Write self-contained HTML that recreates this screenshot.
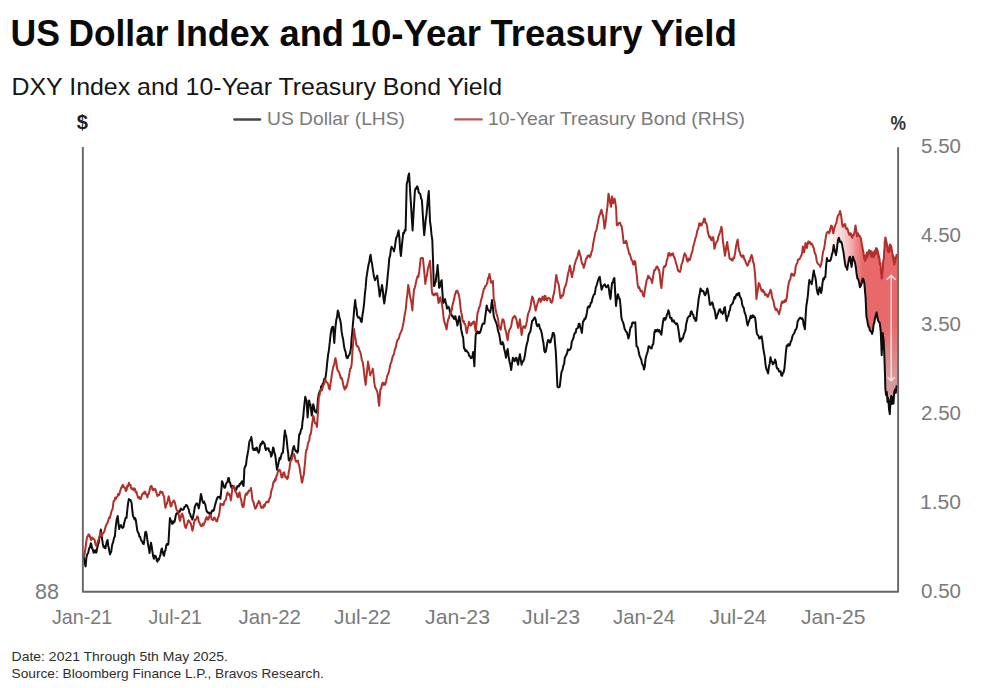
<!DOCTYPE html>
<html><head><meta charset="utf-8"><style>
html,body{margin:0;padding:0;background:#fff;}
body{width:1000px;height:688px;overflow:hidden;}
svg{display:block;font-family:"Liberation Sans", sans-serif;}
</style></head><body>
<svg width="1000" height="688" viewBox="0 0 1000 688">
<text x="11.50" y="95.40" font-size="23.6" fill="#151515" textLength="490.50" lengthAdjust="spacingAndGlyphs">DXY Index and 10-Year Treasury Bond Yield</text>
<text x="267.00" y="125.00" font-size="18.6" fill="#7a7a7a" textLength="138.00" lengthAdjust="spacingAndGlyphs">US Dollar (LHS)</text>
<text x="488.00" y="125.00" font-size="18.6" fill="#7a7a7a" textLength="257.00" lengthAdjust="spacingAndGlyphs">10-Year Treasury Bond (RHS)</text>
<text x="76.80" y="128.70" font-size="20.5" font-weight="700" fill="#1e1e1e" textLength="11.20" lengthAdjust="spacingAndGlyphs">$</text>
<text x="890.50" y="129.50" font-size="19.4" font-weight="700" fill="#333" textLength="15.50" lengthAdjust="spacingAndGlyphs">%</text>
<text x="35.00" y="598.70" font-size="21.2" fill="#7a7a7a" textLength="24.00" lengthAdjust="spacingAndGlyphs">88</text>
<text x="11.60" y="661.30" font-size="13.4" fill="#2e2e2e" textLength="216.40" lengthAdjust="spacingAndGlyphs">Date: 2021 Through 5th May 2025.</text>
<text x="11.60" y="678.20" font-size="13.4" fill="#2e2e2e" textLength="312.20" lengthAdjust="spacingAndGlyphs">Source: Bloomberg Finance L.P., Bravos Research.</text>
<text x="52.00" y="624.20" font-size="20.4" fill="#7a7a7a" textLength="60.25" lengthAdjust="spacingAndGlyphs">Jan-21</text>
<text x="148.50" y="624.20" font-size="20.4" fill="#7a7a7a" textLength="53.50" lengthAdjust="spacingAndGlyphs">Jul-21</text>
<text x="238.50" y="624.20" font-size="20.4" fill="#7a7a7a" textLength="62.50" lengthAdjust="spacingAndGlyphs">Jan-22</text>
<text x="334.00" y="624.20" font-size="20.4" fill="#7a7a7a" textLength="57.00" lengthAdjust="spacingAndGlyphs">Jul-22</text>
<text x="425.00" y="624.20" font-size="20.4" fill="#7a7a7a" textLength="65.00" lengthAdjust="spacingAndGlyphs">Jan-23</text>
<text x="522.00" y="624.20" font-size="20.4" fill="#7a7a7a" textLength="58.00" lengthAdjust="spacingAndGlyphs">Jul-23</text>
<text x="613.00" y="624.20" font-size="20.4" fill="#7a7a7a" textLength="62.00" lengthAdjust="spacingAndGlyphs">Jan-24</text>
<text x="709.50" y="624.20" font-size="20.4" fill="#7a7a7a" textLength="57.00" lengthAdjust="spacingAndGlyphs">Jul-24</text>
<text x="801.00" y="624.20" font-size="20.4" fill="#7a7a7a" textLength="64.50" lengthAdjust="spacingAndGlyphs">Jan-25</text>
<text x="921.00" y="152.80" font-size="20.5" fill="#7a7a7a" textLength="40.00" lengthAdjust="spacingAndGlyphs">5.50</text>
<text x="921.00" y="241.80" font-size="20.5" fill="#7a7a7a" textLength="40.00" lengthAdjust="spacingAndGlyphs">4.50</text>
<text x="921.00" y="330.80" font-size="20.5" fill="#7a7a7a" textLength="40.00" lengthAdjust="spacingAndGlyphs">3.50</text>
<text x="921.00" y="419.80" font-size="20.5" fill="#7a7a7a" textLength="40.00" lengthAdjust="spacingAndGlyphs">2.50</text>
<text x="920.00" y="508.80" font-size="20.5" fill="#7a7a7a" textLength="41.00" lengthAdjust="spacingAndGlyphs">1.50</text>
<text x="921.00" y="597.80" font-size="20.5" fill="#7a7a7a" textLength="40.00" lengthAdjust="spacingAndGlyphs">0.50</text>
<text x="10.50" y="46.30" font-size="36" font-weight="700" fill="#0a0a0a" textLength="49.50" lengthAdjust="spacingAndGlyphs">US</text>
<text x="68.50" y="46.30" font-size="36" font-weight="700" fill="#0a0a0a" textLength="100.00" lengthAdjust="spacingAndGlyphs">Dollar</text>
<text x="176.00" y="46.30" font-size="36" font-weight="700" fill="#0a0a0a" textLength="93.50" lengthAdjust="spacingAndGlyphs">Index</text>
<text x="279.50" y="46.30" font-size="36" font-weight="700" fill="#0a0a0a" textLength="64.50" lengthAdjust="spacingAndGlyphs">and</text>
<text x="350.50" y="46.30" font-size="36" font-weight="700" fill="#0a0a0a" textLength="130.50" lengthAdjust="spacingAndGlyphs">10-Year</text>
<text x="490.50" y="46.30" font-size="36" font-weight="700" fill="#0a0a0a" textLength="152.00" lengthAdjust="spacingAndGlyphs">Treasury</text>
<text x="650.50" y="46.30" font-size="36" font-weight="700" fill="#0a0a0a" textLength="86.50" lengthAdjust="spacingAndGlyphs">Yield</text>
<line x1="234.4" y1="119.5" x2="260.1" y2="119.5" stroke="#464646" stroke-width="2.4" stroke-linecap="round"/>
<line x1="455.3" y1="119.4" x2="481.6" y2="119.4" stroke="#b85a56" stroke-width="2.4" stroke-linecap="round"/>
<defs><linearGradient id="g" gradientUnits="userSpaceOnUse" x1="829" y1="0" x2="863" y2="0"><stop offset="0" stop-color="#e8696a" stop-opacity="0.04"/><stop offset="0.2" stop-color="#e8696a" stop-opacity="0.18"/><stop offset="0.41" stop-color="#e8696a" stop-opacity="0.28"/><stop offset="0.62" stop-color="#e8696a" stop-opacity="0.5"/><stop offset="0.82" stop-color="#e8696a" stop-opacity="0.8"/><stop offset="1" stop-color="#e8696a" stop-opacity="1"/></linearGradient><linearGradient id="gv" gradientUnits="userSpaceOnUse" x1="0" y1="325" x2="0" y2="375"><stop offset="0" stop-color="#c8c8c8" stop-opacity="0"/><stop offset="1" stop-color="#c8c8c8" stop-opacity="0.5"/></linearGradient></defs>
<path d="M829.0,233.3 L829.1,233.4 L830.5,227.6 L832.0,226.2 L833.4,233.4 L834.9,226.2 L836.3,223.3 L837.8,216.0 L840.0,210.9 L841.4,217.4 L842.2,224.7 L843.6,226.2 L845.1,224.0 L846.5,229.0 L848.0,230.5 L849.4,234.9 L850.9,233.4 L852.3,237.8 L853.8,234.9 L855.5,225.4 L857.0,236.3 L858.1,233.4 L860.0,236.3 L860.9,238.3 L862.7,248.8 L864.4,259.2 L866.2,255.7 L867.9,254.0 L869.7,252.3 L871.4,254.0 L873.1,255.7 L874.9,252.3 L876.6,250.5 L878.4,254.0 L880.1,262.7 L881.9,278.4 L883.6,259.2 L885.3,237.5 L887.1,247.0 L888.8,250.5 L890.6,245.3 L892.3,252.3 L894.1,262.7 L895.8,257.5 L897.0,254.0 L897.5,254.0 L897.5,388.0 L897.5,388.0 L896.5,386.2 L895.8,393.0 L895.0,389.6 L894.2,392.0 L893.5,397.0 L892.8,397.0 L892.0,397.0 L891.2,396.0 L890.5,397.0 L889.8,397.0 L889.0,397.0 L888.3,397.0 L887.5,397.0 L886.8,392.0 L886.0,395.0 L885.3,388.0 L885.0,375.0 L884.5,360.0 L883.7,341.0 L882.7,332.9 L881.7,355.2 L880.7,330.8 L879.7,322.7 L878.2,320.7 L876.6,312.5 L875.0,318.6 L873.6,324.7 L872.1,333.9 L870.5,330.8 L868.5,326.8 L866.4,316.6 L865.6,297.6 L864.4,283.6 L862.7,278.4 L860.9,285.4 L860.0,287.2 L858.9,281.4 L857.4,278.5 L856.0,268.3 L854.5,261.0 L853.0,256.7 L851.6,266.9 L850.1,256.7 L848.7,261.0 L847.2,269.8 L845.8,266.9 L844.3,258.1 L843.3,250.9 L841.9,243.6 L840.4,242.2 L839.0,237.8 L837.5,243.6 L836.0,255.2 L834.9,250.9 L833.7,245.0 L832.7,252.3 L831.2,258.1 L829.8,261.0 L829.0,261.0 Z" fill="url(#g)" stroke="none"/>
<path d="M829.0,233.3 L829.1,233.4 L830.5,227.6 L832.0,226.2 L833.4,233.4 L834.9,226.2 L836.3,223.3 L837.8,216.0 L840.0,210.9 L841.4,217.4 L842.2,224.7 L843.6,226.2 L845.1,224.0 L846.5,229.0 L848.0,230.5 L849.4,234.9 L850.9,233.4 L852.3,237.8 L853.8,234.9 L855.5,225.4 L857.0,236.3 L858.1,233.4 L860.0,236.3 L860.9,238.3 L862.7,248.8 L864.4,259.2 L866.2,255.7 L867.9,254.0 L869.7,252.3 L871.4,254.0 L873.1,255.7 L874.9,252.3 L876.6,250.5 L878.4,254.0 L880.1,262.7 L881.9,278.4 L883.6,259.2 L885.3,237.5 L887.1,247.0 L888.8,250.5 L890.6,245.3 L892.3,252.3 L894.1,262.7 L895.8,257.5 L897.0,254.0 L897.5,254.0 L897.5,388.0 L897.5,388.0 L896.5,386.2 L895.8,393.0 L895.0,389.6 L894.2,392.0 L893.5,397.0 L892.8,397.0 L892.0,397.0 L891.2,396.0 L890.5,397.0 L889.8,397.0 L889.0,397.0 L888.3,397.0 L887.5,397.0 L886.8,392.0 L886.0,395.0 L885.3,388.0 L885.0,375.0 L884.5,360.0 L883.7,341.0 L882.7,332.9 L881.7,355.2 L880.7,330.8 L879.7,322.7 L878.2,320.7 L876.6,312.5 L875.0,318.6 L873.6,324.7 L872.1,333.9 L870.5,330.8 L868.5,326.8 L866.4,316.6 L865.6,297.6 L864.4,283.6 L862.7,278.4 L860.9,285.4 L860.0,287.2 L858.9,281.4 L857.4,278.5 L856.0,268.3 L854.5,261.0 L853.0,256.7 L851.6,266.9 L850.1,256.7 L848.7,261.0 L847.2,269.8 L845.8,266.9 L844.3,258.1 L843.3,250.9 L841.9,243.6 L840.4,242.2 L839.0,237.8 L837.5,243.6 L836.0,255.2 L834.9,250.9 L833.7,245.0 L832.7,252.3 L831.2,258.1 L829.8,261.0 L829.0,261.0 Z" fill="url(#gv)" stroke="none"/>
<path d="M82.8,555.2 L83.4,555.8 L84.0,558.4 L84.8,563.5 L85.6,566.4 L86.4,557.6 L87.0,555.2 L87.6,553.6 L88.2,553.0 L88.8,549.6 L89.4,547.8 L90.0,547.2 L90.8,543.2 L91.4,544.7 L92.0,548.0 L92.8,549.5 L93.6,552.8 L94.2,552.1 L94.8,550.4 L95.4,550.2 L96.0,552.8 L96.6,551.7 L97.2,548.0 L98.0,544.8 L98.8,542.4 L99.4,538.1 L100.0,536.0 L100.8,529.6 L101.4,534.3 L102.0,538.4 L102.8,543.7 L103.6,547.2 L104.2,546.2 L104.8,548.0 L105.4,548.3 L106.0,545.6 L106.8,541.5 L107.6,540.0 L108.2,545.5 L108.8,548.0 L109.4,551.6 L110.0,554.4 L110.6,552.6 L111.2,552.0 L111.8,547.1 L112.4,544.0 L113.0,542.7 L113.6,540.0 L114.2,537.6 L114.8,536.8 L115.6,528.0 L116.6,520.0 L117.7,516.0 L118.5,523.6 L119.2,529.0 L120.1,525.5 L121.0,525.0 L121.8,527.2 L122.7,527.9 L123.5,527.0 L124.2,523.0 L125.0,520.0 L125.8,517.4 L126.5,518.0 L127.5,508.0 L128.2,502.5 L128.9,499.0 L129.7,500.1 L130.5,500.0 L131.6,503.0 L132.3,510.5 L133.0,516.0 L133.8,517.4 L134.5,519.5 L135.0,518.0 L135.8,519.9 L136.5,525.0 L137.2,530.1 L138.0,532.5 L138.7,533.3 L139.3,536.5 L140.0,536.5 L140.8,539.1 L141.5,541.0 L142.2,541.6 L143.0,543.7 L143.7,544.0 L144.4,539.8 L145.2,532.5 L145.9,531.7 L146.6,534.0 L147.3,539.4 L148.0,544.0 L148.8,548.2 L149.5,553.0 L150.2,548.7 L151.0,542.7 L151.7,546.5 L152.4,551.4 L153.2,556.5 L153.9,558.7 L154.6,555.7 L155.3,555.8 L156.0,556.9 L156.8,560.6 L157.5,561.6 L158.2,559.0 L159.0,559.6 L159.7,557.0 L160.4,555.1 L161.2,550.1 L161.9,548.5 L162.6,551.6 L163.3,554.3 L164.0,555.8 L164.7,552.1 L165.5,550.1 L166.2,545.6 L166.9,544.0 L167.7,544.9 L168.4,544.0 L169.2,530.1 L169.9,518.0 L170.6,520.7 L171.3,520.6 L172.0,523.8 L172.7,523.7 L173.5,521.2 L174.2,522.3 L174.9,520.3 L175.7,515.8 L176.4,513.6 L177.1,513.8 L177.9,511.5 L178.6,512.0 L179.3,512.1 L180.1,510.9 L180.8,508.6 L181.5,509.2 L182.2,509.8 L183.0,509.8 L183.7,509.2 L184.4,506.9 L185.2,506.8 L185.9,505.0 L186.6,505.2 L187.3,506.0 L188.0,507.8 L188.7,509.3 L189.5,513.1 L190.2,514.0 L190.9,516.8 L191.7,517.3 L192.4,519.6 L193.2,515.9 L194.0,512.5 L194.8,506.8 L195.6,505.1 L196.4,503.5 L197.2,503.6 L198.0,505.3 L198.8,508.4 L199.5,504.3 L200.2,499.5 L200.9,494.0 L201.5,495.8 L202.2,500.2 L202.8,502.0 L203.4,503.0 L204.1,501.5 L204.7,503.6 L205.3,504.4 L206.0,508.4 L206.8,511.5 L207.6,512.2 L208.4,513.2 L209.2,512.6 L210.0,514.8 L210.8,514.2 L211.6,511.6 L212.4,510.3 L213.2,510.9 L214.0,510.0 L214.8,506.1 L215.6,503.2 L216.4,500.4 L217.2,498.1 L218.0,496.8 L218.8,497.2 L219.6,496.9 L220.4,498.8 L221.2,491.3 L222.0,481.2 L222.8,482.9 L223.6,486.0 L224.4,487.8 L225.2,487.6 L226.0,483.7 L226.8,482.8 L227.5,481.9 L228.2,478.2 L228.9,478.0 L229.5,482.0 L230.2,482.8 L230.8,486.0 L231.6,487.9 L232.4,485.7 L233.2,487.6 L234.0,486.8 L234.8,488.4 L235.6,489.2 L236.4,489.6 L237.2,486.4 L238.0,486.0 L238.8,486.5 L239.6,484.0 L240.4,484.4 L241.2,482.5 L242.0,481.2 L242.8,484.1 L243.6,486.0 L244.4,468.4 L245.2,466.4 L246.0,465.2 L246.8,458.2 L247.6,454.0 L248.4,449.4 L249.2,442.8 L249.9,440.2 L250.6,440.1 L251.3,437.0 L252.1,442.1 L252.8,448.8 L253.5,449.9 L254.1,448.6 L254.8,450.0 L255.5,450.0 L256.1,447.8 L256.8,447.5 L257.4,450.3 L258.1,451.8 L258.7,452.7 L259.4,450.5 L260.0,446.0 L260.7,443.9 L261.3,444.7 L262.0,442.2 L262.7,441.2 L263.3,443.3 L264.0,442.9 L264.7,444.1 L265.3,448.5 L266.0,450.0 L266.6,448.2 L267.3,448.4 L267.9,448.8 L268.5,448.3 L269.2,451.4 L269.8,451.4 L270.5,452.6 L271.1,456.6 L271.8,455.0 L272.4,451.7 L273.1,447.5 L273.7,448.6 L274.4,452.9 L275.0,454.0 L275.7,458.7 L276.3,464.1 L277.0,469.7 L277.7,467.1 L278.3,464.1 L279.0,460.5 L279.7,457.8 L280.3,459.3 L281.0,456.6 L281.6,453.9 L282.3,452.9 L282.9,452.7 L283.6,445.0 L284.2,436.9 L284.9,430.5 L285.5,434.4 L286.2,436.0 L286.8,441.0 L287.5,448.2 L288.1,452.6 L288.8,460.5 L289.5,460.6 L290.1,458.5 L290.8,459.2 L291.4,455.3 L292.1,453.9 L292.7,450.0 L293.4,447.2 L294.0,446.0 L294.7,448.8 L295.3,450.4 L296.0,451.4 L296.7,450.9 L297.3,452.7 L298.0,451.4 L298.6,441.9 L299.2,434.4 L299.9,434.1 L300.5,432.1 L301.2,428.9 L301.9,428.8 L302.5,421.6 L303.2,417.5 L303.8,410.0 L304.6,402.7 L305.3,396.7 L306.0,399.7 L306.6,400.5 L307.6,417.5 L308.4,408.4 L309.1,400.5 L309.8,403.9 L310.4,404.3 L311.0,408.7 L311.7,415.6 L312.4,411.4 L313.2,404.3 L313.8,406.2 L314.5,409.6 L315.1,411.8 L315.7,411.0 L316.4,412.6 L317.0,411.8 L318.0,398.6 L318.9,393.5 L319.8,391.0 L320.5,390.7 L321.2,386.2 L322.0,386.8 L322.7,383.5 L323.4,383.1 L324.1,379.4 L324.8,378.4 L325.5,377.8 L326.4,371.2 L327.3,361.6 L328.1,354.8 L328.9,350.4 L329.7,343.0 L330.6,334.5 L331.5,329.0 L332.3,327.2 L333.1,326.7 L333.7,335.5 L334.3,343.0 L334.9,333.6 L335.5,326.7 L336.3,319.8 L337.0,317.3 L337.8,310.5 L338.6,312.7 L339.3,317.1 L340.1,319.8 L340.9,323.8 L341.6,331.4 L342.4,336.0 L343.2,339.5 L344.0,346.1 L344.8,350.0 L345.6,351.8 L346.3,356.5 L347.1,358.1 L347.9,357.8 L348.6,355.4 L349.4,354.7 L350.2,352.4 L351.0,347.7 L351.6,338.5 L352.3,331.7 L352.9,324.4 L353.7,315.5 L354.4,306.8 L355.2,300.0 L355.8,306.2 L356.5,308.7 L357.1,315.1 L357.9,317.1 L358.6,317.8 L359.4,317.4 L360.2,318.5 L360.9,321.3 L361.7,322.1 L362.5,314.7 L363.3,310.2 L364.1,303.5 L364.9,293.8 L365.6,287.9 L366.4,277.9 L367.2,272.8 L367.9,268.1 L368.7,264.0 L369.3,262.1 L370.0,256.8 L370.6,254.7 L371.3,260.2 L372.0,263.4 L372.7,268.6 L373.5,273.7 L374.2,277.3 L375.0,280.2 L375.8,277.9 L376.5,277.9 L377.3,275.6 L378.1,282.9 L378.9,288.9 L379.7,296.5 L380.5,291.9 L381.2,289.6 L382.0,284.9 L382.8,289.8 L383.5,298.7 L384.3,303.5 L385.0,297.9 L385.6,294.0 L386.3,289.8 L387.0,283.6 L387.8,274.7 L388.5,268.1 L389.3,258.4 L390.1,255.8 L390.8,250.1 L391.6,246.7 L392.4,248.8 L393.2,248.8 L394.0,251.4 L394.8,247.4 L395.5,242.4 L396.3,237.4 L397.1,236.6 L397.8,233.6 L398.6,230.5 L399.4,237.9 L400.1,249.1 L400.9,256.0 L401.7,247.6 L402.5,239.6 L403.3,232.8 L404.1,233.3 L404.8,230.0 L405.6,230.5 L406.7,184.0 L407.5,181.4 L408.3,176.1 L409.1,173.5 L409.9,187.8 L410.7,200.2 L411.3,209.3 L412.0,221.3 L412.6,230.5 L413.4,215.8 L414.1,203.7 L414.9,191.0 L415.7,188.3 L416.4,188.6 L417.2,186.3 L418.0,188.2 L418.7,192.5 L419.5,193.3 L420.3,194.2 L421.1,198.4 L421.9,200.2 L422.7,212.9 L423.4,224.7 L424.2,235.1 L425.0,227.4 L425.7,219.7 L426.5,214.2 L427.3,205.6 L428.0,197.8 L428.8,191.0 L429.4,206.5 L430.0,221.2 L430.8,226.9 L431.5,234.7 L432.3,240.0 L433.1,262.0 L433.8,286.0 L434.4,285.8 L435.1,282.4 L435.7,282.0 L436.3,275.5 L437.0,272.1 L437.6,265.0 L438.4,275.6 L439.1,287.8 L439.8,286.9 L440.4,284.0 L441.0,281.5 L441.7,280.2 L442.4,292.2 L443.2,303.0 L443.8,302.2 L444.5,299.8 L445.1,299.1 L445.7,302.8 L446.4,304.9 L447.0,308.6 L447.8,308.1 L448.5,306.7 L449.3,308.3 L450.0,312.1 L450.8,314.3 L451.5,314.4 L452.2,316.5 L452.9,316.3 L453.6,318.0 L454.2,319.0 L454.9,316.4 L455.5,316.2 L456.1,319.8 L456.8,321.7 L457.4,325.6 L458.0,322.8 L458.7,318.7 L459.3,316.2 L459.9,319.7 L460.6,324.3 L461.2,329.4 L461.8,332.6 L462.5,335.6 L463.1,337.0 L464.0,348.3 L464.6,348.5 L465.3,351.1 L465.9,350.2 L466.5,350.5 L467.2,351.9 L467.8,352.1 L468.4,353.0 L469.1,355.8 L469.7,355.9 L470.3,357.1 L471.0,358.1 L471.6,357.8 L472.4,356.4 L473.1,352.1 L473.8,359.5 L474.4,366.3 L475.0,349.6 L475.7,335.0 L476.5,332.7 L477.3,331.3 L478.0,333.3 L478.8,331.8 L479.5,333.2 L480.3,331.9 L481.2,328.7 L482.0,325.6 L482.8,323.7 L483.6,323.3 L484.4,323.7 L485.2,316.8 L485.9,312.1 L486.7,305.4 L487.6,308.9 L488.5,310.6 L489.4,311.0 L490.2,312.4 L491.1,307.3 L492.0,300.1 L492.9,307.1 L493.7,315.8 L494.6,318.9 L495.5,321.0 L496.4,323.3 L497.2,326.3 L498.1,331.1 L499.0,333.3 L499.9,338.1 L500.7,343.8 L501.6,344.3 L502.5,342.0 L503.4,344.1 L504.2,349.0 L505.1,352.5 L506.0,357.7 L506.9,352.1 L507.7,349.0 L508.5,355.9 L509.4,361.2 L510.3,364.8 L511.2,370.0 L512.0,363.4 L512.9,357.7 L513.8,359.9 L514.7,361.2 L515.5,358.3 L516.4,357.7 L517.3,361.6 L518.2,364.7 L519.0,358.3 L519.9,354.2 L520.8,359.8 L521.6,364.7 L522.5,361.4 L523.4,361.2 L524.2,358.7 L525.1,354.2 L526.0,347.7 L526.9,343.8 L527.8,340.7 L528.6,335.0 L529.5,332.8 L530.4,331.6 L531.2,326.7 L532.1,321.0 L533.0,320.2 L533.9,318.5 L534.8,317.3 L535.6,319.3 L536.5,324.3 L537.4,326.3 L538.2,324.5 L539.1,324.6 L540.0,328.6 L540.8,329.8 L541.7,333.0 L542.6,338.5 L543.5,343.2 L544.3,350.8 L545.0,352.3 L545.8,351.6 L546.6,347.3 L547.3,342.8 L548.1,340.0 L548.9,340.2 L549.7,342.4 L550.5,342.3 L551.3,338.8 L552.0,337.0 L552.8,333.0 L553.6,333.1 L554.4,335.3 L555.1,344.3 L555.8,351.6 L556.6,368.0 L557.4,386.5 L558.2,387.3 L559.0,387.2 L559.8,386.5 L560.6,379.1 L561.4,372.6 L562.0,370.8 L562.7,369.2 L563.3,365.6 L564.1,364.1 L564.8,357.9 L565.6,356.3 L566.4,354.8 L567.1,353.1 L567.9,349.3 L568.7,350.2 L569.4,350.1 L570.2,349.3 L571.0,347.7 L571.8,341.6 L572.6,340.0 L573.4,338.1 L574.1,334.7 L574.9,333.0 L575.7,332.6 L576.4,328.7 L577.2,328.4 L578.0,327.7 L578.7,324.0 L579.5,323.7 L580.3,327.5 L581.1,329.2 L581.9,333.0 L583.0,321.4 L583.8,321.0 L584.5,318.5 L585.3,319.0 L586.1,316.7 L586.9,312.7 L587.7,307.4 L588.5,306.4 L589.2,307.4 L590.0,306.0 L590.8,302.7 L591.5,302.7 L592.3,299.0 L593.1,296.5 L593.9,294.5 L594.7,294.3 L595.8,287.3 L596.6,285.6 L597.3,282.9 L598.1,280.3 L599.0,277.6 L599.8,276.9 L600.7,283.8 L601.6,289.7 L602.4,287.6 L603.2,285.7 L604.0,285.0 L604.8,284.4 L605.5,286.2 L606.3,287.3 L607.2,286.5 L608.1,285.0 L608.9,288.9 L609.7,295.3 L610.5,299.0 L611.3,290.1 L612.1,282.7 L612.9,282.5 L613.6,278.9 L614.4,278.0 L615.2,292.9 L616.0,306.0 L616.6,300.9 L617.3,296.8 L617.9,294.3 L618.5,296.3 L619.2,298.8 L619.8,299.0 L620.6,306.9 L621.4,317.6 L622.2,320.6 L622.9,321.9 L623.7,324.5 L624.5,328.3 L625.2,330.1 L626.0,331.5 L626.8,332.3 L627.6,335.1 L628.4,338.5 L629.2,335.6 L629.9,330.2 L630.7,326.9 L631.5,326.9 L632.2,322.9 L633.0,322.2 L633.8,323.1 L634.5,323.1 L635.3,322.2 L635.9,334.8 L636.5,346.3 L637.3,346.5 L638.1,348.6 L638.9,353.1 L639.7,356.3 L640.5,357.9 L641.3,359.9 L642.0,363.6 L642.8,364.9 L643.4,366.5 L644.0,369.5 L644.8,366.4 L645.5,359.1 L646.3,355.6 L647.1,353.5 L647.8,350.9 L648.6,346.3 L649.4,346.5 L650.1,347.3 L650.9,348.6 L651.7,348.4 L652.5,344.9 L653.3,344.0 L654.4,332.3 L655.2,330.0 L655.9,331.6 L656.7,330.0 L657.5,329.5 L658.3,331.6 L659.1,330.0 L659.9,331.0 L660.6,333.5 L661.4,334.7 L662.2,328.0 L662.9,322.7 L663.7,318.4 L664.5,318.1 L665.2,319.9 L666.0,318.4 L666.8,315.0 L667.6,313.6 L668.4,310.2 L669.2,312.6 L669.9,317.2 L670.7,318.4 L671.5,317.7 L672.2,321.5 L673.0,320.7 L673.8,320.3 L674.5,322.6 L675.3,323.0 L676.1,324.3 L676.9,323.2 L677.7,325.3 L678.5,330.4 L679.2,335.2 L680.0,341.6 L680.8,341.3 L681.5,338.5 L682.3,339.3 L683.1,337.4 L683.9,334.2 L684.7,332.3 L685.5,329.9 L686.2,324.0 L687.0,320.7 L687.8,317.5 L688.5,316.9 L689.3,316.0 L690.1,316.0 L690.8,311.7 L691.6,311.4 L692.4,314.1 L693.2,314.8 L694.0,318.4 L694.8,318.1 L695.5,320.9 L696.3,320.7 L697.1,312.0 L698.0,304.8 L698.8,297.7 L699.6,294.6 L700.5,288.4 L701.3,289.7 L702.0,291.3 L702.8,290.7 L703.6,291.6 L704.3,294.1 L705.1,295.3 L705.9,293.8 L706.6,291.1 L707.4,288.4 L708.2,292.4 L709.0,297.7 L709.8,304.7 L710.6,304.9 L711.3,303.5 L712.1,302.3 L712.9,303.8 L713.6,308.0 L714.4,309.3 L715.2,313.0 L716.0,318.6 L716.6,317.8 L717.3,314.5 L717.9,314.0 L718.7,310.9 L719.4,309.5 L720.2,309.3 L721.0,312.4 L721.8,312.0 L722.6,314.0 L723.4,312.9 L724.1,308.2 L724.9,307.0 L725.8,315.5 L726.7,320.9 L727.5,316.9 L728.3,316.1 L729.1,311.6 L729.9,310.3 L730.6,305.9 L731.4,304.7 L732.2,304.0 L732.9,302.9 L733.7,300.0 L734.5,297.0 L735.2,298.4 L736.0,295.3 L736.8,294.0 L737.6,295.2 L738.4,293.0 L739.2,293.1 L739.9,296.9 L740.7,297.7 L741.5,299.8 L742.2,304.7 L743.0,307.0 L743.8,307.9 L744.5,312.2 L745.3,314.0 L746.1,317.1 L746.9,322.2 L747.7,325.6 L748.5,322.3 L749.2,320.9 L750.0,318.0 L750.7,315.8 L751.4,317.9 L752.1,317.4 L752.8,315.3 L753.6,317.0 L754.3,316.4 L755.1,317.7 L755.7,322.3 L756.4,330.0 L757.0,334.0 L757.8,335.0 L758.5,336.0 L759.3,338.6 L760.1,338.2 L760.8,336.8 L761.6,336.3 L762.4,341.2 L763.2,348.0 L764.0,352.6 L764.8,357.1 L765.5,364.6 L766.3,368.8 L767.2,370.7 L768.1,373.5 L768.9,366.9 L769.7,363.5 L770.5,357.2 L771.3,361.1 L772.0,361.6 L772.8,364.2 L773.6,363.5 L774.3,362.4 L775.1,359.5 L775.9,361.8 L776.6,367.1 L777.4,368.8 L778.2,368.8 L779.0,371.5 L779.8,371.2 L780.6,371.2 L781.3,375.3 L782.1,375.8 L782.9,372.9 L783.6,372.5 L784.4,368.8 L785.2,360.4 L785.9,352.2 L786.7,345.6 L787.5,346.2 L788.3,344.1 L789.1,345.6 L789.9,345.0 L790.6,341.7 L791.4,340.9 L792.2,337.1 L792.9,335.0 L793.7,334.0 L794.5,332.8 L795.2,330.2 L796.0,329.3 L796.8,327.6 L797.6,321.7 L798.4,320.0 L799.2,318.8 L799.9,317.7 L800.7,317.7 L801.5,319.0 L802.2,318.3 L803.0,320.0 L803.6,324.5 L804.3,326.6 L804.9,329.3 L805.6,316.8 L806.3,306.0 L807.3,300.0 L808.0,294.0 L808.7,285.5 L809.4,280.0 L810.1,281.9 L810.9,282.0 L811.6,284.3 L812.3,280.3 L813.1,274.5 L813.8,270.5 L814.5,274.8 L815.3,277.0 L816.0,281.6 L816.7,288.7 L817.5,292.6 L818.2,294.5 L818.9,289.7 L819.6,287.2 L820.4,290.5 L821.1,293.0 L821.8,289.6 L822.6,282.3 L823.3,278.5 L824.0,279.5 L824.7,276.9 L825.4,277.0 L826.1,266.0 L826.9,258.1 L827.6,261.1 L828.3,261.0 L829.0,260.5 L829.8,261.0 L830.5,260.3 L831.2,258.1 L832.0,254.1 L832.7,252.3 L833.7,245.0 L834.3,248.9 L834.9,250.9 L836.0,255.2 L836.8,250.3 L837.5,243.6 L838.2,239.3 L839.0,237.8 L839.7,240.9 L840.4,242.2 L841.1,241.5 L841.9,243.6 L842.6,247.7 L843.3,250.9 L844.3,258.1 L845.0,263.5 L845.8,266.9 L846.5,266.9 L847.2,269.8 L848.0,264.4 L848.7,261.0 L849.4,257.5 L850.1,256.7 L850.9,262.5 L851.6,266.9 L852.3,260.6 L853.0,256.7 L853.8,259.6 L854.5,261.0 L855.2,263.6 L856.0,268.3 L856.7,274.6 L857.4,278.5 L858.1,279.1 L858.9,281.4 L860.0,287.2 L860.9,285.4 L861.8,282.9 L862.7,278.4 L863.5,279.8 L864.4,283.6 L865.0,291.4 L865.6,297.6 L866.4,316.6 L867.1,319.2 L867.8,323.8 L868.5,326.8 L869.2,327.2 L869.8,330.4 L870.5,330.8 L871.3,331.9 L872.1,333.9 L872.9,330.8 L873.6,324.7 L874.3,322.6 L875.0,318.6 L875.8,315.2 L876.6,312.5 L877.4,317.3 L878.2,320.7 L879.0,322.2 L879.7,322.7 L880.7,330.8 L881.7,355.2 L882.7,332.9 L883.7,341.0 L884.5,360.0 L885.0,375.0 L885.3,388.0 L886.0,395.0 L886.8,392.0 L887.5,402.0 L888.3,398.0 L889.0,409.0 L889.8,414.0 L890.5,401.0 L891.2,396.0 L892.0,404.0 L892.8,397.0 L893.5,403.6 L894.2,392.0 L895.0,389.6 L895.8,393.0 L896.5,386.2 L897.5,388.0" fill="none" stroke="#0d0d0d" stroke-width="2.0" stroke-linejoin="round"/>
<path d="M82.6,554.4 L83.5,554.3 L84.4,555.2 L85.2,550.0 L86.0,544.0 L86.6,539.6 L87.2,536.8 L87.8,536.6 L88.4,534.4 L89.2,534.7 L90.0,536.8 L90.6,538.8 L91.2,540.0 L91.8,537.4 L92.4,537.6 L93.2,539.0 L94.0,539.2 L94.6,539.7 L95.2,543.2 L95.8,545.2 L96.4,545.6 L97.2,543.6 L98.0,540.8 L98.8,539.1 L99.6,536.0 L100.2,533.9 L100.8,532.8 L101.4,535.8 L102.0,536.0 L102.8,533.3 L103.6,532.8 L104.4,531.2 L105.2,528.0 L106.0,525.6 L106.8,524.0 L107.6,522.6 L108.4,520.0 L109.1,517.6 L109.8,518.0 L110.5,515.4 L111.2,512.6 L111.9,510.1 L112.6,509.2 L113.6,501.0 L114.4,501.0 L115.2,497.6 L115.9,498.7 L116.7,497.0 L117.5,496.5 L118.2,493.7 L119.0,494.9 L119.7,493.0 L120.5,489.8 L121.2,487.9 L122.0,486.1 L122.8,484.8 L123.5,487.4 L124.3,487.0 L125.0,487.9 L125.8,491.0 L126.6,490.1 L127.3,485.7 L128.1,486.4 L128.9,482.8 L129.7,485.0 L130.4,484.7 L131.2,488.3 L131.9,488.9 L132.7,488.5 L133.4,490.2 L134.2,488.4 L135.0,489.0 L135.7,492.3 L136.5,491.9 L137.2,494.7 L137.9,497.2 L138.6,498.3 L139.3,497.1 L140.0,499.0 L140.8,499.0 L141.5,496.6 L142.2,494.1 L143.0,493.3 L143.7,493.7 L144.5,491.7 L145.2,491.8 L145.9,494.6 L146.7,494.6 L147.4,497.6 L148.1,494.1 L148.8,494.1 L149.6,490.3 L150.3,487.0 L151.0,486.0 L151.7,486.1 L152.5,489.7 L153.2,490.3 L153.9,488.7 L154.6,489.8 L155.3,489.0 L156.0,490.9 L156.8,494.2 L157.5,496.2 L158.2,494.7 L159.0,495.0 L159.7,493.3 L160.4,491.4 L161.2,492.8 L161.9,491.8 L162.6,492.5 L163.3,495.2 L164.0,496.2 L164.8,503.6 L165.5,507.8 L166.2,504.7 L167.0,503.4 L167.8,500.2 L168.7,496.2 L169.3,498.9 L170.0,502.4 L170.6,506.3 L171.3,506.4 L172.1,502.9 L172.8,502.3 L173.5,500.5 L174.2,500.9 L175.0,503.2 L175.7,506.3 L176.4,509.3 L177.2,510.7 L177.9,510.8 L178.6,513.6 L179.3,518.6 L180.0,520.9 L180.7,517.9 L181.5,514.5 L182.2,513.6 L182.9,515.7 L183.7,519.1 L184.4,523.8 L185.2,526.9 L185.9,528.0 L186.6,525.3 L187.3,523.9 L188.0,520.9 L188.7,520.3 L189.5,521.3 L190.2,522.8 L190.9,523.9 L191.7,527.4 L192.4,530.8 L193.2,527.7 L194.0,522.8 L194.8,519.6 L195.6,520.0 L196.4,518.4 L197.2,516.4 L198.0,517.2 L198.8,521.8 L199.6,522.8 L200.4,525.2 L201.2,525.9 L202.0,526.0 L202.8,523.6 L203.6,525.2 L204.4,522.8 L205.2,521.2 L206.0,518.0 L206.8,517.0 L207.6,519.6 L208.4,519.6 L209.2,516.7 L210.0,514.8 L210.8,515.1 L211.6,519.4 L212.4,519.6 L213.2,520.2 L214.0,517.5 L214.8,518.0 L215.6,519.4 L216.4,521.3 L217.2,521.2 L218.0,517.3 L218.8,516.4 L219.6,511.4 L220.4,503.6 L221.2,504.7 L222.0,504.0 L222.8,505.2 L223.6,504.7 L224.4,501.2 L225.2,500.4 L226.0,499.2 L226.8,494.2 L227.6,492.4 L228.4,494.7 L229.2,494.0 L230.0,495.7 L230.8,500.4 L231.6,495.0 L232.4,487.6 L233.2,486.5 L234.0,486.0 L234.8,489.7 L235.6,492.4 L236.4,492.7 L237.2,496.5 L238.0,497.2 L238.8,493.8 L239.6,492.4 L240.4,497.6 L241.2,499.6 L242.0,505.2 L242.8,507.0 L243.6,506.8 L244.4,500.5 L245.2,495.6 L246.0,493.6 L246.8,494.8 L247.6,492.4 L248.2,492.7 L248.9,490.4 L249.5,490.8 L250.2,490.6 L250.9,488.0 L251.5,491.3 L252.2,498.2 L252.8,501.0 L253.5,501.8 L254.1,504.8 L254.8,507.6 L255.5,508.7 L256.1,507.2 L256.8,506.3 L257.4,503.7 L258.1,503.4 L258.7,501.0 L259.4,501.6 L260.0,503.1 L260.7,506.3 L261.6,508.0 L262.4,506.7 L263.3,507.6 L264.0,504.7 L264.6,506.5 L265.3,503.7 L266.2,502.3 L267.0,501.5 L267.9,502.4 L268.5,501.9 L269.2,499.0 L269.8,498.4 L270.5,496.1 L271.1,492.0 L271.8,489.3 L272.5,487.5 L273.1,483.3 L273.8,481.4 L274.4,481.9 L275.1,479.0 L275.7,480.1 L276.4,475.9 L277.0,475.5 L277.7,472.3 L278.3,470.1 L279.0,471.0 L279.6,469.7 L280.3,470.8 L280.9,474.3 L281.6,477.5 L282.5,477.3 L283.3,472.8 L284.2,472.3 L284.9,475.3 L285.5,477.5 L286.4,476.6 L287.2,479.0 L288.1,477.5 L288.8,471.4 L289.4,469.3 L290.1,463.1 L290.8,459.9 L291.4,460.4 L292.1,457.9 L292.7,455.1 L293.4,455.8 L294.0,454.0 L294.7,456.0 L295.3,459.7 L296.0,461.8 L296.7,460.8 L297.3,461.6 L298.0,460.5 L298.6,464.2 L299.3,466.1 L299.9,469.7 L300.6,474.4 L301.2,478.0 L301.9,482.7 L302.5,481.1 L303.2,476.6 L303.8,474.9 L304.5,467.5 L305.2,461.0 L305.7,453.4 L306.4,449.7 L307.1,449.1 L307.8,443.9 L308.5,442.0 L309.2,440.8 L309.9,435.0 L310.6,434.7 L311.3,430.7 L311.9,424.9 L312.6,421.1 L313.2,415.6 L313.8,416.9 L314.5,421.2 L315.1,423.2 L315.7,423.1 L316.4,424.6 L317.0,427.0 L317.6,417.5 L318.3,405.9 L318.9,396.7 L319.5,395.7 L320.2,391.3 L320.8,391.0 L321.4,388.8 L322.1,390.1 L322.7,387.3 L323.4,384.6 L324.1,384.3 L324.8,380.6 L325.5,379.7 L326.4,382.1 L327.3,382.6 L328.1,384.3 L328.9,388.0 L329.7,389.5 L330.5,383.8 L331.2,379.3 L332.0,373.3 L332.7,369.3 L333.4,366.1 L334.1,365.6 L334.8,360.4 L335.5,358.1 L336.3,361.9 L337.0,367.8 L337.8,370.9 L338.6,371.1 L339.3,372.9 L340.1,375.6 L340.9,378.5 L341.6,377.7 L342.4,380.2 L343.2,384.7 L344.0,387.8 L344.8,389.5 L345.6,386.5 L346.3,387.6 L347.1,384.9 L347.9,380.7 L348.6,377.9 L349.4,373.3 L350.2,368.8 L350.9,368.2 L351.7,364.0 L352.5,351.2 L353.3,341.0 L354.1,329.1 L354.9,335.8 L355.6,338.9 L356.4,345.3 L357.2,346.5 L357.9,346.3 L358.7,347.7 L359.5,350.7 L360.2,351.8 L361.0,354.7 L361.8,360.1 L362.6,361.6 L363.4,366.3 L364.2,373.7 L364.9,379.8 L365.7,384.9 L366.5,376.7 L367.2,370.0 L368.0,361.6 L368.8,365.6 L369.5,371.2 L370.3,375.6 L371.1,372.6 L371.9,372.1 L372.7,368.6 L373.5,374.1 L374.2,381.9 L375.0,387.2 L375.8,388.3 L376.5,389.8 L377.3,391.9 L377.9,395.0 L378.6,402.1 L379.2,405.8 L380.3,389.5 L381.1,388.8 L381.9,384.3 L382.7,382.6 L383.5,384.9 L384.2,383.1 L385.0,384.9 L385.8,382.8 L386.5,379.2 L387.3,375.6 L388.1,374.2 L388.8,372.1 L389.6,368.6 L390.4,364.0 L391.2,362.7 L392.0,359.3 L392.8,356.0 L393.5,355.3 L394.3,352.3 L395.1,348.5 L395.8,347.5 L396.6,343.0 L397.4,340.2 L398.1,339.5 L398.9,338.4 L399.7,334.8 L400.5,333.1 L401.3,331.4 L402.1,329.1 L402.8,326.3 L403.6,322.1 L404.4,316.6 L405.1,313.1 L405.9,308.1 L406.7,299.0 L407.4,294.1 L408.2,284.9 L409.0,288.9 L409.8,294.7 L410.6,298.8 L411.5,303.1 L412.4,310.5 L413.2,298.6 L414.0,289.5 L414.8,287.9 L415.6,284.3 L416.4,280.2 L417.2,277.5 L418.0,275.6 L418.4,277.0 L419.2,271.7 L419.9,265.7 L420.7,258.4 L421.5,258.0 L422.2,257.9 L423.0,258.4 L423.8,267.7 L424.5,274.2 L425.3,284.0 L426.1,278.7 L426.9,275.4 L427.7,270.0 L428.5,266.1 L429.2,264.4 L430.0,260.8 L430.6,269.6 L431.3,281.9 L431.9,291.6 L432.5,294.5 L433.2,293.7 L433.8,295.4 L434.4,295.2 L435.1,293.7 L435.7,293.5 L436.3,294.8 L437.0,293.3 L437.6,295.4 L438.5,303.0 L439.1,301.9 L439.8,298.2 L440.4,297.3 L441.0,301.2 L441.7,302.9 L442.3,306.7 L443.0,311.9 L443.6,318.0 L444.4,322.0 L445.1,323.7 L445.9,327.1 L446.6,329.4 L447.3,324.1 L448.0,320.0 L448.9,318.0 L449.8,314.3 L450.4,314.4 L451.1,312.1 L451.7,310.5 L452.3,306.1 L453.0,303.3 L453.6,301.0 L454.2,298.8 L454.9,294.5 L455.5,293.5 L456.1,291.1 L456.8,290.9 L457.4,290.6 L458.0,293.3 L458.7,293.9 L459.3,297.3 L459.9,301.1 L460.6,308.7 L461.2,312.4 L461.8,314.5 L462.5,320.0 L463.1,321.8 L463.7,320.9 L464.4,323.8 L465.0,323.7 L465.6,326.2 L466.3,331.2 L466.9,333.2 L467.5,329.0 L468.2,326.7 L468.8,321.8 L469.7,323.1 L470.6,325.6 L471.2,325.3 L471.9,323.4 L472.5,323.7 L473.1,321.9 L473.8,321.5 L474.4,321.8 L475.0,327.2 L475.7,331.3 L476.3,326.2 L477.0,318.4 L477.6,312.4 L478.2,311.7 L478.9,308.0 L479.5,306.7 L480.1,305.7 L480.8,301.3 L481.4,299.1 L482.0,297.4 L482.7,293.5 L483.3,291.6 L483.9,288.4 L484.6,288.4 L485.2,285.9 L485.9,285.9 L486.7,284.4 L487.4,282.4 L488.0,277.9 L488.7,278.1 L489.4,274.0 L490.2,277.8 L491.1,282.7 L492.0,282.7 L492.9,281.0 L493.7,298.4 L494.6,302.1 L495.5,308.9 L496.4,313.2 L497.2,315.8 L498.1,319.5 L499.0,326.3 L499.9,328.4 L500.7,329.8 L501.6,323.7 L502.5,319.3 L503.4,319.6 L504.2,322.8 L505.1,328.8 L506.0,331.6 L506.9,336.7 L507.7,340.3 L508.5,333.5 L509.4,329.8 L510.3,328.4 L511.2,326.3 L512.0,321.2 L512.9,317.6 L513.8,317.4 L514.7,315.8 L515.5,317.2 L516.4,319.3 L517.3,324.4 L518.2,328.0 L519.0,324.1 L519.9,319.3 L520.8,327.7 L521.6,335.0 L522.5,329.3 L523.4,326.3 L524.2,326.3 L525.1,328.0 L526.0,325.4 L526.9,321.0 L527.8,315.2 L528.6,312.4 L529.5,310.5 L530.4,307.1 L531.2,302.2 L532.1,296.6 L533.0,297.9 L533.9,301.9 L534.8,305.9 L535.6,310.6 L536.5,307.5 L537.4,303.6 L538.2,301.6 L539.1,298.4 L540.0,298.7 L540.8,301.9 L541.7,299.9 L542.6,296.6 L543.5,299.5 L544.3,300.1 L544.7,295.8 L545.5,296.1 L546.2,299.6 L547.0,300.5 L547.8,298.4 L548.5,297.8 L549.3,298.1 L550.1,299.3 L550.8,302.2 L551.6,302.8 L552.4,301.2 L553.2,296.0 L554.0,293.5 L554.8,288.2 L555.5,281.6 L556.3,274.9 L557.1,279.3 L557.8,282.4 L558.6,284.2 L559.2,288.1 L559.9,294.2 L560.5,298.1 L561.3,297.7 L562.0,295.3 L562.8,295.8 L563.6,293.1 L564.3,288.6 L565.1,286.5 L565.9,285.0 L566.6,281.9 L567.4,277.2 L568.2,272.9 L569.0,270.4 L569.8,265.6 L570.6,268.6 L571.3,274.2 L572.1,277.2 L572.9,272.2 L573.6,270.9 L574.4,265.6 L575.2,262.8 L575.9,260.3 L576.7,258.6 L577.5,256.7 L578.3,252.6 L579.1,250.5 L579.9,254.6 L580.6,256.0 L581.4,260.9 L582.2,264.0 L582.9,264.0 L583.7,267.9 L584.5,265.4 L585.2,262.8 L586.0,258.6 L586.8,258.3 L587.6,255.7 L588.4,256.3 L589.2,255.2 L590.0,257.1 L590.8,255.4 L591.5,251.9 L592.3,250.1 L593.1,244.3 L593.9,239.9 L594.7,236.0 L595.5,231.7 L596.4,230.4 L597.2,225.7 L597.9,222.7 L598.7,217.8 L599.4,215.5 L600.1,214.3 L600.8,211.1 L601.5,209.7 L602.2,213.7 L603.0,215.5 L603.8,221.5 L604.5,228.6 L605.2,225.0 L605.9,219.9 L606.6,212.8 L607.4,206.8 L608.5,193.7 L609.5,198.1 L610.2,203.0 L611.0,206.8 L612.1,196.6 L613.2,203.2 L613.9,202.0 L614.6,198.8 L615.4,203.1 L616.1,208.3 L616.8,225.0 L617.5,225.3 L618.3,223.5 L619.2,222.7 L620.1,222.8 L620.8,225.5 L621.5,225.7 L622.6,233.0 L623.7,243.1 L624.5,241.7 L625.2,243.1 L626.0,240.8 L626.8,242.9 L627.6,247.8 L628.4,250.1 L629.2,254.0 L629.9,254.2 L630.7,257.1 L631.5,260.0 L632.2,260.3 L633.0,264.1 L633.8,264.7 L634.5,261.1 L635.3,261.7 L636.1,270.0 L636.9,276.2 L637.7,285.0 L638.5,288.0 L639.2,287.0 L640.0,289.7 L640.8,291.4 L641.5,290.6 L642.3,292.0 L643.1,295.8 L644.0,296.6 L644.9,289.9 L645.8,285.0 L646.6,280.3 L647.3,279.3 L648.1,275.7 L648.7,278.0 L649.4,276.9 L650.0,278.0 L650.7,278.9 L651.4,280.2 L652.1,283.0 L652.9,278.2 L653.6,273.7 L654.4,270.0 L655.2,270.2 L655.9,268.2 L656.7,266.5 L657.5,266.8 L658.3,269.6 L659.1,270.0 L659.9,275.4 L660.6,283.5 L661.4,288.1 L662.2,280.1 L662.9,273.8 L663.7,267.2 L664.5,266.0 L665.2,266.7 L666.0,264.9 L666.8,260.3 L667.6,258.2 L668.4,253.3 L669.2,252.9 L669.9,255.7 L670.7,255.6 L671.5,253.7 L672.2,254.7 L673.0,253.3 L673.8,256.9 L674.5,257.4 L675.3,260.2 L676.1,263.7 L676.9,265.5 L677.7,269.5 L678.5,271.2 L679.2,270.7 L680.0,271.9 L680.8,269.2 L681.5,264.4 L682.3,262.6 L683.1,259.9 L683.9,255.6 L684.7,253.3 L685.5,255.1 L686.2,256.3 L687.0,260.2 L687.8,261.6 L688.5,258.6 L689.3,260.2 L690.1,259.4 L690.8,256.1 L691.6,253.3 L692.4,251.7 L693.2,246.3 L694.0,244.0 L694.8,240.8 L695.5,238.0 L696.3,236.0 L696.9,232.6 L697.5,230.2 L698.4,228.2 L699.3,223.3 L700.1,223.4 L700.8,225.5 L701.6,225.6 L702.4,222.7 L703.2,222.5 L704.0,218.6 L704.8,218.7 L705.5,223.1 L706.3,223.3 L707.1,226.2 L707.8,231.8 L708.6,234.9 L709.4,237.5 L710.1,236.5 L710.9,239.5 L711.7,240.3 L712.5,237.2 L713.3,237.2 L714.4,248.8 L715.2,245.9 L715.9,243.1 L716.7,241.9 L717.5,240.9 L718.3,236.7 L719.1,234.9 L719.9,232.5 L720.6,230.1 L721.4,226.7 L722.2,231.7 L722.9,241.1 L723.7,246.5 L724.3,250.8 L724.9,255.8 L725.7,251.7 L726.4,245.7 L727.2,241.9 L728.0,248.8 L728.7,252.1 L729.5,258.1 L730.3,259.2 L731.1,258.9 L731.9,260.5 L732.7,260.5 L733.4,257.8 L734.2,258.1 L735.1,252.9 L736.0,246.5 L736.9,242.1 L737.7,239.5 L738.5,246.9 L739.3,251.2 L739.9,252.2 L740.6,255.4 L741.2,255.8 L742.0,257.1 L742.7,255.2 L743.5,255.8 L744.3,259.3 L745.0,259.7 L745.8,262.8 L746.6,264.4 L747.3,265.6 L748.1,265.1 L748.9,261.3 L749.7,261.4 L750.5,258.0 L751.6,255.0 L752.4,257.4 L753.2,262.3 L754.0,264.0 L755.1,275.0 L755.8,286.0 L756.4,299.0 L757.2,293.2 L757.9,289.4 L758.7,283.0 L759.5,284.1 L760.4,287.0 L761.2,289.8 L762.0,291.3 L762.7,289.9 L763.5,292.1 L764.3,291.6 L765.0,295.0 L765.8,294.4 L766.6,294.3 L767.3,296.8 L768.1,296.7 L768.9,294.0 L769.7,292.5 L770.5,289.8 L771.3,291.6 L772.0,297.4 L772.8,299.1 L773.6,301.6 L774.3,306.2 L775.1,308.4 L775.9,310.1 L776.6,308.8 L777.4,310.7 L778.2,311.9 L779.1,314.2 L779.9,310.4 L780.6,307.8 L781.4,303.7 L782.2,301.4 L782.9,302.9 L783.7,301.4 L784.5,302.1 L785.2,299.9 L786.0,301.4 L786.9,296.8 L787.7,289.8 L788.6,283.6 L789.5,280.5 L790.3,279.6 L791.1,274.4 L791.9,273.5 L792.7,275.5 L793.4,274.3 L794.2,275.8 L795.0,273.0 L795.7,266.6 L796.5,264.2 L797.3,263.0 L798.0,259.6 L798.8,259.5 L799.4,259.3 L800.0,258.1 L800.8,256.3 L801.5,255.2 L802.2,252.0 L802.9,246.5 L803.5,248.1 L804.1,252.3 L804.8,248.7 L805.5,242.9 L806.2,244.1 L807.0,248.0 L807.7,243.2 L808.4,241.4 L809.3,243.2 L810.2,242.2 L810.9,244.4 L811.6,243.6 L812.3,244.5 L813.1,246.9 L813.8,248.0 L814.5,252.3 L815.3,253.8 L816.0,256.0 L816.7,261.0 L817.5,263.2 L818.2,264.0 L818.9,264.5 L819.6,265.4 L820.3,266.9 L821.0,264.8 L821.8,261.0 L822.5,255.3 L823.3,250.9 L824.0,249.2 L824.7,245.0 L825.5,239.2 L826.2,234.9 L826.9,232.5 L827.6,232.0 L828.4,231.6 L829.1,233.4 L829.8,231.3 L830.5,227.6 L831.2,225.6 L832.0,226.2 L832.7,231.0 L833.4,233.4 L834.1,229.2 L834.9,226.2 L835.6,224.3 L836.3,223.3 L837.0,219.1 L837.8,216.0 L838.5,214.9 L839.3,214.2 L840.0,210.9 L840.7,213.2 L841.4,217.4 L842.2,224.7 L842.9,226.8 L843.6,226.2 L844.4,224.2 L845.1,224.0 L845.8,227.9 L846.5,229.0 L847.2,228.2 L848.0,230.5 L848.7,233.3 L849.4,234.9 L850.1,233.2 L850.9,233.4 L851.6,236.7 L852.3,237.8 L853.0,235.0 L853.8,234.9 L854.6,231.5 L855.5,225.4 L856.2,230.1 L857.0,236.3 L858.1,233.4 L858.7,235.2 L859.4,235.7 L860.0,236.3 L860.9,238.3 L861.8,243.9 L862.7,248.8 L863.5,252.9 L864.4,259.2 L864.7,256.9 L865.0,260.9 L865.3,255.8 L865.6,259.4 L865.9,258.5 L866.2,255.7 L866.5,254.2 L866.8,257.9 L867.0,252.4 L867.3,256.1 L867.6,256.3 L867.9,254.0 L868.2,252.1 L868.5,252.4 L868.8,254.3 L869.1,250.1 L869.4,253.3 L869.7,252.3 L870.0,251.3 L870.3,253.6 L870.5,252.3 L870.8,251.0 L871.1,256.8 L871.4,254.0 L871.7,252.9 L872.0,252.0 L872.2,256.4 L872.5,253.0 L872.8,256.3 L873.1,255.7 L873.4,254.7 L873.7,257.2 L874.0,252.2 L874.3,255.1 L874.6,250.8 L874.9,252.3 L875.2,254.4 L875.5,253.2 L875.8,248.9 L876.0,252.1 L876.3,247.9 L876.6,250.5 L876.9,248.8 L877.2,249.4 L877.5,253.9 L877.8,250.7 L878.1,254.9 L878.4,254.0 L878.7,257.8 L879.0,255.9 L879.2,260.0 L879.5,258.3 L879.8,264.2 L880.1,262.7 L880.4,263.1 L880.7,266.5 L881.0,273.7 L881.3,271.3 L881.6,278.4 L881.9,278.4 L882.2,277.0 L882.5,270.0 L882.8,271.2 L883.0,263.4 L883.3,260.6 L883.6,259.2 L883.9,258.6 L884.2,249.7 L884.5,250.9 L884.7,241.6 L885.0,241.6 L885.3,237.5 L885.6,237.6 L885.9,242.2 L886.2,239.9 L886.5,244.9 L886.8,243.0 L887.1,247.0 L887.4,245.8 L887.7,250.8 L888.0,247.8 L888.2,251.9 L888.5,252.1 L888.8,250.5 L889.1,247.7 L889.4,251.9 L889.7,245.7 L890.0,244.4 L890.3,247.3 L890.6,245.3 L890.9,245.8 L891.2,246.3 L891.5,247.7 L891.7,251.0 L892.0,250.3 L892.3,252.3 L892.6,256.4 L892.9,254.8 L893.2,259.2 L893.5,257.1 L893.8,262.3 L894.1,262.7 L894.4,264.6 L894.7,258.3 L895.0,257.5 L895.2,261.9 L895.5,258.0 L895.8,257.5 L896.1,258.2 L896.4,255.1 L896.7,255.4 L897.0,254.0" fill="none" stroke="#b2302c" stroke-width="2.0" stroke-linejoin="round"/>
<g stroke="#fbeeee" stroke-width="1.5" fill="none" stroke-linecap="round" stroke-linejoin="round" opacity="0.9"><line x1="891.2" y1="275.5" x2="891.2" y2="380.5"/><polyline points="887,279.5 891.2,275.3 895.4,279.5"/><polyline points="888,377.5 891.2,380.7 894.4,377.5"/></g>
<path d="M82.85,147 V591.8 H898.1 V147.3" fill="none" stroke="#666" stroke-width="1.9" stroke-linejoin="round"/>
</svg>
</body></html>
